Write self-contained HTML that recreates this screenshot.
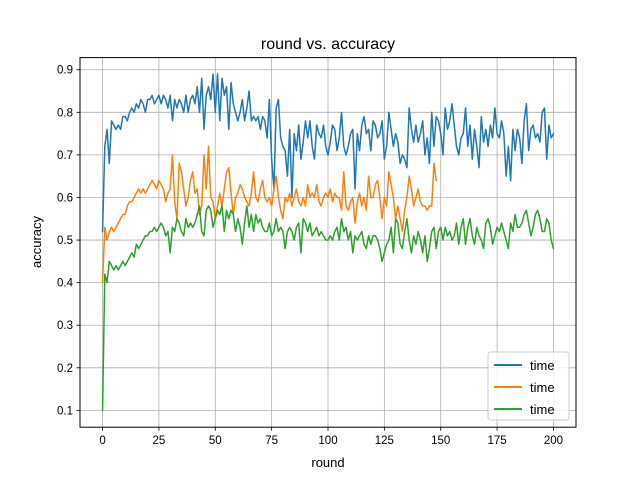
<!DOCTYPE html>
<html><head><meta charset="utf-8"><style>
body{margin:0;background:#fff}
svg{display:block;font-family:"Liberation Sans","DejaVu Sans",sans-serif}
</style></head><body>
<svg id="chart" width="640" height="480" xmlns="http://www.w3.org/2000/svg">
<rect width="640" height="480" fill="#fff"/>
<g id="grid"></g>
<g id="series"></g>
<rect x="80" y="57.6" width="496" height="369.6" fill="none" stroke="#000" stroke-width="1"/>
<g id="ticks"></g>
<text x="328" y="49" text-anchor="middle" font-size="16">round vs. accuracy</text>
<text x="328" y="467" text-anchor="middle" font-size="13">round</text>
<text transform="translate(41,242) rotate(-90)" text-anchor="middle" font-size="13">accuracy</text>
<g>
<rect x="488" y="352" width="81" height="68" rx="3" fill="#fff" fill-opacity="0.8" stroke="#ccc"/>
<line x1="494" y1="365" x2="522" y2="365" stroke="#1f77b4" stroke-width="2"/>
<text x="530" y="370" font-size="13">time</text>
<line x1="494" y1="387" x2="522" y2="387" stroke="#ff7f0e" stroke-width="2"/>
<text x="530" y="392" font-size="13">time</text>
<line x1="494" y1="409" x2="522" y2="409" stroke="#2ca02c" stroke-width="2"/>
<text x="530" y="414" font-size="13">time</text>
</g>
</svg>
<script>
const xTicks=[0,25,50,75,100,125,150,175,200];
const yTicks=[0.1,0.2,0.3,0.4,0.5,0.6,0.7,0.8,0.9];
const blueValues=[0.52,0.72,0.76,0.68,0.78,0.77,0.76,0.77,0.76,0.79,
0.79,0.78,0.80,0.81,0.80,0.82,0.81,0.83,0.82,0.80,
0.83,0.83,0.84,0.82,0.83,0.84,0.82,0.84,0.83,0.81,
0.84,0.78,0.83,0.81,0.83,0.82,0.80,0.84,0.80,0.83,
0.84,0.82,0.86,0.80,0.88,0.76,0.84,0.86,0.83,0.89,
0.80,0.89,0.78,0.88,0.84,0.86,0.76,0.87,0.82,0.80,
0.78,0.80,0.83,0.78,0.81,0.85,0.78,0.79,0.78,0.79,
0.76,0.79,0.78,0.74,0.83,0.69,0.62,0.81,0.83,0.74,
0.72,0.71,0.65,0.76,0.60,0.75,0.71,0.77,0.69,0.73,
0.78,0.74,0.78,0.72,0.69,0.77,0.75,0.74,0.77,0.72,
0.70,0.73,0.77,0.76,0.71,0.74,0.80,0.72,0.70,0.72,
0.75,0.76,0.62,0.75,0.71,0.77,0.79,0.75,0.76,0.71,
0.78,0.77,0.74,0.75,0.78,0.69,0.72,0.80,0.76,0.72,
0.75,0.73,0.68,0.70,0.69,0.67,0.81,0.76,0.73,0.77,
0.73,0.75,0.78,0.70,0.74,0.68,0.80,0.72,0.79,0.78,
0.75,0.70,0.81,0.76,0.78,0.82,0.77,0.72,0.70,0.74,
0.75,0.81,0.72,0.77,0.69,0.76,0.72,0.67,0.79,0.73,
0.76,0.72,0.77,0.74,0.81,0.75,0.74,0.78,0.75,0.65,
0.72,0.64,0.76,0.71,0.76,0.74,0.68,0.78,0.82,0.71,
0.76,0.77,0.74,0.75,0.73,0.80,0.81,0.69,0.77,0.74,0.75];
const orangeValues=[0.40,0.53,0.50,0.52,0.53,0.52,0.53,0.54,0.55,0.56,
0.56,0.58,0.59,0.59,0.60,0.61,0.62,0.61,0.62,0.61,
0.62,0.63,0.64,0.63,0.62,0.64,0.63,0.62,0.59,0.61,
0.62,0.70,0.59,0.55,0.68,0.66,0.62,0.58,0.60,0.64,
0.66,0.61,0.62,0.56,0.58,0.70,0.62,0.72,0.60,0.59,
0.55,0.58,0.61,0.58,0.62,0.66,0.67,0.61,0.56,0.60,
0.61,0.63,0.62,0.60,0.59,0.58,0.61,0.66,0.60,0.59,
0.62,0.64,0.60,0.59,0.60,0.58,0.62,0.65,0.60,0.57,
0.55,0.60,0.59,0.61,0.58,0.60,0.62,0.59,0.58,0.60,
0.58,0.63,0.60,0.61,0.60,0.63,0.59,0.58,0.60,0.61,
0.60,0.62,0.59,0.61,0.60,0.60,0.57,0.66,0.58,0.57,
0.59,0.60,0.54,0.59,0.61,0.58,0.60,0.57,0.65,0.60,
0.60,0.63,0.64,0.60,0.55,0.60,0.58,0.66,0.63,0.60,
0.55,0.58,0.55,0.52,0.57,0.60,0.65,0.62,0.58,0.60,
0.62,0.59,0.58,0.58,0.57,0.58,0.58,0.68,0.64];
const greenValues=[0.10,0.42,0.40,0.45,0.44,0.43,0.44,0.43,0.44,0.45,
0.44,0.45,0.46,0.47,0.46,0.49,0.48,0.49,0.50,0.51,
0.51,0.52,0.52,0.53,0.52,0.53,0.54,0.53,0.51,0.52,
0.47,0.53,0.52,0.55,0.54,0.52,0.51,0.55,0.53,0.54,
0.53,0.54,0.56,0.58,0.52,0.51,0.57,0.58,0.57,0.53,
0.55,0.57,0.56,0.58,0.52,0.57,0.55,0.57,0.56,0.52,
0.55,0.53,0.49,0.54,0.58,0.53,0.56,0.52,0.56,0.54,
0.55,0.53,0.52,0.52,0.54,0.51,0.52,0.55,0.52,0.53,
0.52,0.48,0.52,0.53,0.52,0.50,0.53,0.54,0.47,0.55,
0.54,0.52,0.54,0.51,0.52,0.53,0.51,0.52,0.51,0.50,
0.50,0.51,0.50,0.52,0.53,0.50,0.55,0.52,0.53,0.50,
0.52,0.47,0.51,0.50,0.51,0.52,0.49,0.48,0.51,0.49,
0.51,0.51,0.50,0.48,0.45,0.47,0.49,0.50,0.53,0.47,
0.55,0.54,0.49,0.48,0.52,0.55,0.50,0.47,0.51,0.49,
0.52,0.50,0.47,0.51,0.45,0.48,0.52,0.53,0.48,0.52,
0.53,0.50,0.53,0.51,0.52,0.50,0.51,0.54,0.49,0.53,
0.55,0.49,0.53,0.55,0.51,0.49,0.53,0.51,0.50,0.48,
0.54,0.55,0.53,0.49,0.51,0.53,0.52,0.54,0.52,0.50,
0.48,0.54,0.52,0.56,0.53,0.53,0.54,0.56,0.57,0.54,
0.51,0.53,0.56,0.57,0.55,0.52,0.52,0.55,0.54,0.50,0.48];

const NS='http://www.w3.org/2000/svg';
const L=80,R=576,T=57.6,B=427.2;
const xMin=-10,xMax=210,yMin=0.0605,yMax=0.9285;
function xs(v){return L+(v-xMin)/(xMax-xMin)*(R-L);}
function ys(v){return B-(v-yMin)/(yMax-yMin)*(B-T);}
function mk(tag,attrs,parent){const e=document.createElementNS(NS,tag);for(const k in attrs)e.setAttribute(k,attrs[k]);parent.appendChild(e);return e;}
const grid=document.getElementById('grid'),ticks=document.getElementById('ticks'),ser=document.getElementById('series');
xTicks.forEach(t=>{
  const x=xs(t);
  const g=mk('line',{x1:x,x2:x,y1:T,y2:B,stroke:'#b0b0b0','stroke-width':0.8},grid);
  
  
  const tk=mk('line',{x1:x,x2:x,y1:B,y2:B+3.5,stroke:'#000','stroke-width':0.8},ticks);
  
  
  const tx=mk('text',{x:x,y:B+17,'text-anchor':'middle','font-size':11.5},ticks);
  tx.textContent=String(t);
  
  
});
yTicks.forEach(t=>{
  const y=ys(t);
  const g=mk('line',{x1:L,x2:R,y1:y,y2:y,stroke:'#b0b0b0','stroke-width':0.8},grid);
  
  
  const tk=mk('line',{x1:L-3.5,x2:L,y1:y,y2:y,stroke:'#000','stroke-width':0.8},ticks);
  
  
  const tx=mk('text',{x:L-7,y:y+4,'text-anchor':'end','font-size':11.5},ticks);
  tx.textContent=t.toFixed(1);
  
  
});
[[blueValues,'#1f77b4','series-time-blue'],[orangeValues,'#ff7f0e','series-time-orange'],[greenValues,'#2ca02c','series-time-green']].forEach(([vals,col,name])=>{
  const pts=vals.map((v,i)=>xs(i).toFixed(2)+','+ys(v).toFixed(2)).join(' ');
  const p=mk('polyline',{points:pts,fill:'none',stroke:col,'stroke-width':1.5,'stroke-linejoin':'round','stroke-linecap':'square'},ser);
  
  
});
</script>
</body></html>
